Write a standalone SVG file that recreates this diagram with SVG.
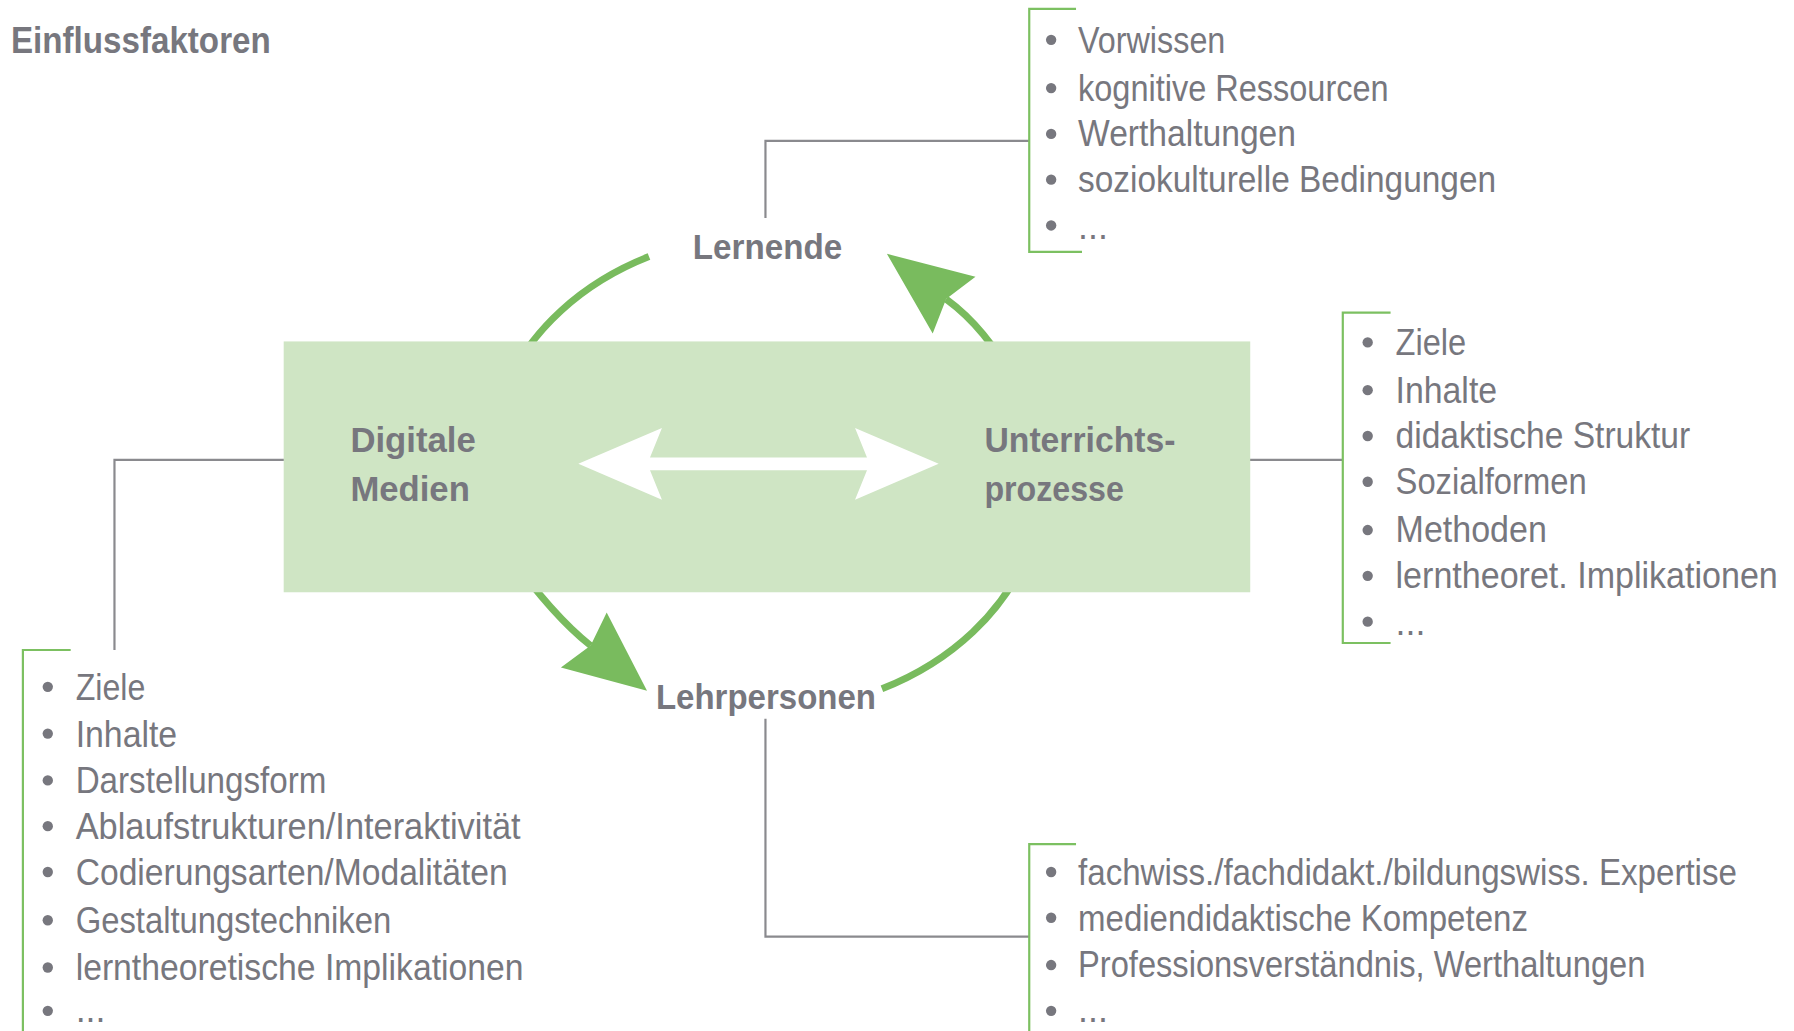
<svg xmlns="http://www.w3.org/2000/svg" width="1794" height="1031" viewBox="0 0 1794 1031">
<style>
.t{font-family:"Liberation Sans",Arial,sans-serif;font-size:38px;fill:#77777e}
.b{font-family:"Liberation Sans",Arial,sans-serif;font-size:36px;font-weight:bold;fill:#77777e}
.dot{fill:#77777e}
.gray{fill:none;stroke:#8a8a8e;stroke-width:2.2}
.br{fill:none;stroke:#7cc061;stroke-width:2.2}
.arc{fill:none;stroke:#79bb5e;stroke-width:7}
.ah{fill:#79bb5e}
</style>
<rect width="1794" height="1031" fill="#ffffff"/>
<g transform="scale(0.9954)">
<text id="title" class="b" x="11" y="53" textLength="261" lengthAdjust="spacingAndGlyphs" style="font-size:37px">Einflussfaktoren</text>

<g id="connectors">
  <path class="gray" d="M769 219 V141.5 H1034"/>
  <path class="gray" d="M334 462 H115 V653"/>
  <path class="gray" d="M1196 462 H1349"/>
  <path class="gray" d="M769 722 V941 H1034"/>
  <path class="arc" d="M506.8 390.8 A280.6 235.8 0 0 1 652 257.8"/>
  <path class="arc" d="M1020 385 Q991 330 950.5 300.5"/>
  <polygon class="ah" points="891,255 937,335 950.5,300.5 980,278"/>
  <path class="arc" d="M510 555 Q554.3 617.4 593.4 648.6"/>
  <polygon class="ah" points="650,694 563.5,670.5 593.4,648.6 609.5,615.3"/>
  <path class="arc" d="M1034.2 552.1 A280.6 235.8 0 0 1 886 692"/>
</g>

<g id="center">
  <rect x="285" y="343" width="971" height="252" fill="#cfe5c4"/>
  <polygon fill="#ffffff" points="581,466 665,430 653,459.7 871,459.7 859,430 943,466 859,502 871,472.3 653,472.3 665,502"/>
</g>

<g id="digitale-medien">
  <text class="b" x="352" y="454" textLength="126" lengthAdjust="spacingAndGlyphs">Digitale</text>
  <text class="b" x="352" y="503" textLength="120" lengthAdjust="spacingAndGlyphs">Medien</text>
</g>
<g id="unterrichtsprozesse">
  <text class="b" x="989" y="454" textLength="192" lengthAdjust="spacingAndGlyphs">Unterrichts-</text>
  <text class="b" x="989" y="503" textLength="140" lengthAdjust="spacingAndGlyphs">prozesse</text>
</g>
<g id="lernende">
  <text class="b" x="696" y="260" textLength="150" lengthAdjust="spacingAndGlyphs">Lernende</text>
</g>
<g id="lehrpersonen">
  <text class="b" x="659" y="712" textLength="221" lengthAdjust="spacingAndGlyphs">Lehrpersonen</text>
</g>

<g id="list-lernende">
  <path class="br" d="M1081 9 H1034 V253 H1087"/>
  <circle class="dot" cx="1056" cy="40" r="5.2"/>
  <circle class="dot" cx="1056" cy="88.5" r="5.2"/>
  <circle class="dot" cx="1056" cy="134.5" r="5.2"/>
  <circle class="dot" cx="1056" cy="180.5" r="5.2"/>
  <circle class="dot" cx="1056" cy="226.5" r="5.2"/>
  <text class="t" x="1083" y="53" textLength="148" lengthAdjust="spacingAndGlyphs">Vorwissen</text>
  <text class="t" x="1083" y="101" textLength="312" lengthAdjust="spacingAndGlyphs">kognitive Ressourcen</text>
  <text class="t" x="1083" y="147" textLength="219" lengthAdjust="spacingAndGlyphs">Werthaltungen</text>
  <text class="t" x="1083" y="193" textLength="420" lengthAdjust="spacingAndGlyphs">soziokulturelle Bedingungen</text>
  <text class="t" x="1083" y="240" textLength="30" lengthAdjust="spacingAndGlyphs">...</text>
</g>

<g id="list-unterricht">
  <path class="br" d="M1397 314 H1349 V646 H1397"/>
  <circle class="dot" cx="1374" cy="344" r="5.2"/>
  <circle class="dot" cx="1374" cy="392" r="5.2"/>
  <circle class="dot" cx="1374" cy="438" r="5.2"/>
  <circle class="dot" cx="1374" cy="484" r="5.2"/>
  <circle class="dot" cx="1374" cy="532.5" r="5.2"/>
  <circle class="dot" cx="1374" cy="578.5" r="5.2"/>
  <circle class="dot" cx="1374" cy="624.5" r="5.2"/>
  <text class="t" x="1402" y="356.5" textLength="71" lengthAdjust="spacingAndGlyphs">Ziele</text>
  <text class="t" x="1402" y="404.5" textLength="102" lengthAdjust="spacingAndGlyphs">Inhalte</text>
  <text class="t" x="1402" y="450.5" textLength="296" lengthAdjust="spacingAndGlyphs">didaktische Struktur</text>
  <text class="t" x="1402" y="496.5" textLength="192" lengthAdjust="spacingAndGlyphs">Sozialformen</text>
  <text class="t" x="1402" y="545" textLength="152" lengthAdjust="spacingAndGlyphs">Methoden</text>
  <text class="t" x="1402" y="591" textLength="384" lengthAdjust="spacingAndGlyphs">lerntheoret. Implikationen</text>
  <text class="t" x="1402" y="638" textLength="30" lengthAdjust="spacingAndGlyphs">...</text>
</g>

<g id="list-medien">
  <path class="br" d="M71 653 H23 V1036"/>
  <circle class="dot" cx="48" cy="690" r="5.2"/>
  <circle class="dot" cx="48" cy="737" r="5.2"/>
  <circle class="dot" cx="48" cy="784" r="5.2"/>
  <circle class="dot" cx="48" cy="830" r="5.2"/>
  <circle class="dot" cx="48" cy="876" r="5.2"/>
  <circle class="dot" cx="48" cy="924.5" r="5.2"/>
  <circle class="dot" cx="48" cy="972" r="5.2"/>
  <circle class="dot" cx="48" cy="1015.5" r="5.2"/>
  <text class="t" x="76" y="703" textLength="70" lengthAdjust="spacingAndGlyphs">Ziele</text>
  <text class="t" x="76" y="750" textLength="102" lengthAdjust="spacingAndGlyphs">Inhalte</text>
  <text class="t" x="76" y="797" textLength="252" lengthAdjust="spacingAndGlyphs">Darstellungsform</text>
  <text class="t" x="76" y="843" textLength="447" lengthAdjust="spacingAndGlyphs">Ablaufstrukturen/Interaktivität</text>
  <text class="t" x="76" y="889" textLength="434" lengthAdjust="spacingAndGlyphs">Codierungsarten/Modalitäten</text>
  <text class="t" x="76" y="937" textLength="317" lengthAdjust="spacingAndGlyphs">Gestaltungstechniken</text>
  <text class="t" x="76" y="985" textLength="450" lengthAdjust="spacingAndGlyphs">lerntheoretische Implikationen</text>
  <text class="t" x="76" y="1027" textLength="30" lengthAdjust="spacingAndGlyphs">...</text>
</g>

<g id="list-lehrpersonen">
  <path class="br" d="M1081 848 H1034 V1036"/>
  <circle class="dot" cx="1056" cy="876" r="5.2"/>
  <circle class="dot" cx="1056" cy="922" r="5.2"/>
  <circle class="dot" cx="1056" cy="969.5" r="5.2"/>
  <circle class="dot" cx="1056" cy="1015.5" r="5.2"/>
  <text class="t" x="1083" y="889" textLength="662" lengthAdjust="spacingAndGlyphs">fachwiss./fachdidakt./bildungswiss. Expertise</text>
  <text class="t" x="1083" y="935" textLength="452" lengthAdjust="spacingAndGlyphs">mediendidaktische Kompetenz</text>
  <text class="t" x="1083" y="982" textLength="570" lengthAdjust="spacingAndGlyphs">Professionsverständnis, Werthaltungen</text>
  <text class="t" x="1083" y="1027" textLength="30" lengthAdjust="spacingAndGlyphs">...</text>
</g>
</g>
</svg>
